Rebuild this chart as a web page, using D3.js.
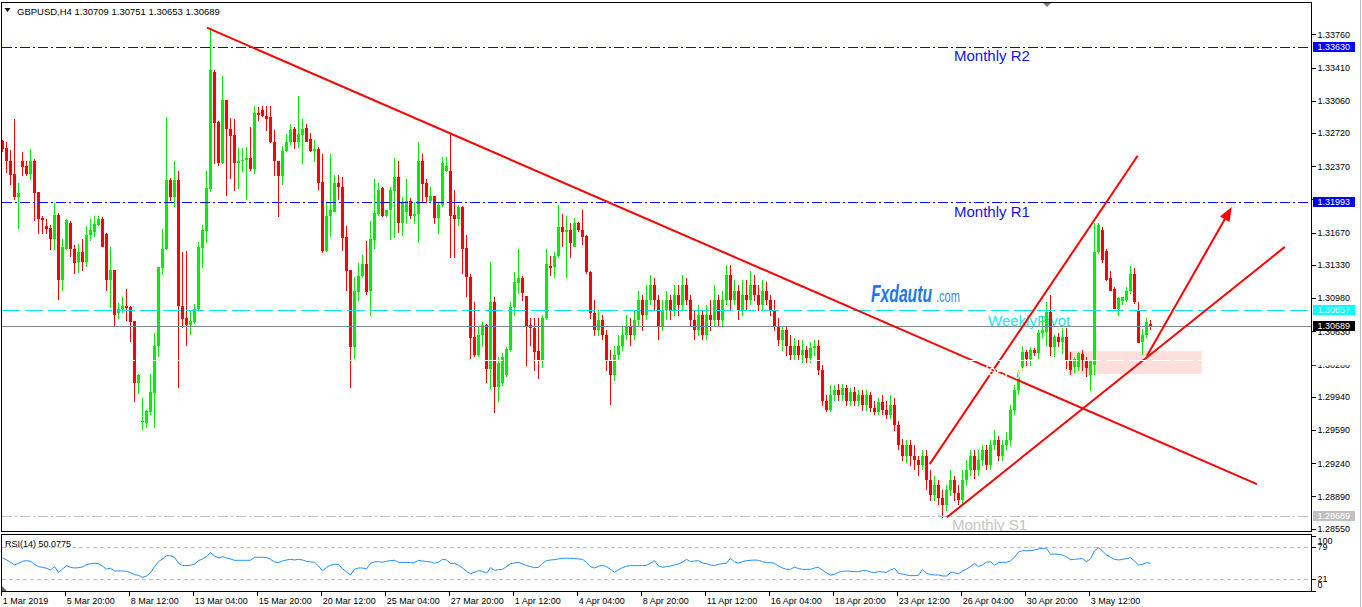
<!DOCTYPE html>
<html>
<head>
<meta charset="utf-8">
<script src="https://cdn.jsdelivr.net/npm/d3@7/dist/d3.min.js"></script>
<style>
html,body{margin:0;padding:0;background:#fff;}
svg{display:block;}
</style>
</head>
<body>
<svg id="chart" width="1362" height="607"></svg>
<script>
// ---------------- DATA ----------------
const chartTitle = "GBPUSD,H4";
const openP = [
1.3264,1.3256,1.3243,1.3229,1.3205,1.3243,1.3237,1.3229,1.3242,1.3210,
1.3182,1.3174,1.3172,1.3160,1.3186,1.3117,1.3150,1.3177,1.3150,1.3136,
1.3147,1.3136,1.3165,1.3168,1.3175,1.3181,1.3166,1.3117,1.3128,1.3082,
1.3086,1.3090,1.3089,1.3074,1.3009,1.2967,1.2966,1.2978,1.2998,1.3048,
1.3130,1.3150,1.3222,1.3205,1.3222,1.3090,1.3077,1.3070,1.3073,1.3086,
1.3151,1.3169,1.3213,1.3336,1.3284,1.3240,1.3307,1.3276,1.3270,1.3240,
1.3242,1.3244,1.3246,1.3234,1.3293,1.3296,1.3290,1.3289,1.3262,1.3242,
1.3227,1.3253,1.3263,1.3276,1.3262,1.3270,1.3277,1.3266,1.3253,1.3255,
1.3220,1.3148,1.3184,1.3189,1.3219,1.3215,1.3162,1.3128,1.3047,1.3104,
1.3121,1.3134,1.3105,1.3159,1.3187,1.3214,1.3184,1.3191,1.3211,1.3226,
1.3177,1.3189,1.3200,1.3184,1.3187,1.3242,1.3219,1.3200,1.3206,1.3182,
1.3196,1.3232,1.3232,1.3186,1.3181,1.3194,1.3151,1.3120,1.3057,1.3038,
1.3059,1.3070,1.3023,1.3094,1.3004,1.3009,1.3017,1.3043,1.3089,1.3114,
1.3119,1.3100,1.3070,1.3066,1.3042,1.3032,1.3077,1.3132,1.3131,1.3142,
1.3173,1.3168,1.3170,1.3152,1.3177,1.3170,1.3163,1.3125,
1.3082,1.3064,1.3075,1.3059,1.3033,1.3017,1.3038,1.3048,1.3059,1.3069,
1.3059,1.3075,1.3096,1.3080,1.3096,1.3112,1.3096,1.3069,1.3085,1.3096,
1.3085,1.3101,1.3091,1.3112,1.3096,1.3075,1.3064,1.3080,1.3059,1.3080,
1.3075,1.3096,1.3075,1.3096,1.3122,1.3096,1.3106,1.3085,1.3101,1.3096,
1.3112,1.3101,1.3091,1.3106,1.3096,1.3085,1.3069,1.3054,1.3064,1.3048,
1.3038,1.3048,1.3038,1.3043,1.3035,1.3045,1.3048,1.3022,1.2990,1.2980,
1.2996,1.3001,1.2996,1.3003,1.2990,1.2999,1.2990,1.2996,1.2985,1.2996,
1.2982,1.2978,1.2988,1.2980,1.2975,1.2985,1.2964,1.2943,1.2932,1.2943,
1.2932,1.2927,1.2922,1.2932,1.2906,1.2890,1.2901,1.2887,1.2880,1.2896,
1.2906,1.2893,1.2885,1.2906,1.2917,1.2932,1.2917,1.2927,1.2938,1.2922,
1.2943,1.2948,1.2932,1.2943,1.2948,1.2980,1.3001,1.3025,1.3041,1.3034,
1.3043,1.3040,1.3061,1.3062,1.3083,1.3047,1.3057,1.3052,1.3057,1.3033,
1.3025,1.3025,1.3039,1.3033,1.3017,1.3027,1.3147,1.3170,1.3148,1.3119,
1.3108,1.3087,1.3095,1.3096,1.3105,1.3123,1.3085,1.3052,1.3059,1.30709];
const highP = [
1.3265,1.3262,1.3254,1.3287,1.3219,1.3252,1.3243,1.3255,1.3245,1.3210,
1.3185,1.3181,1.3175,1.3198,1.3188,1.3160,1.3181,1.3179,1.3154,1.3155,
1.3160,1.3174,1.3181,1.3184,1.3185,1.3183,1.3167,1.3152,1.3128,1.3093,
1.3099,1.3108,1.3090,1.3074,1.3018,1.2993,1.2980,1.3018,1.3061,1.3131,
1.3171,1.3289,1.3225,1.3242,1.3232,1.3147,1.3148,1.3085,1.3092,1.3157,
1.3175,1.3232,1.3383,1.3338,1.3285,1.3332,1.3307,1.3288,1.3287,1.3256,
1.3256,1.3257,1.3278,1.3300,1.3299,1.3300,1.3300,1.3300,1.3275,1.3242,
1.3258,1.3271,1.3281,1.3278,1.3311,1.3287,1.3282,1.3272,1.3265,1.3257,
1.3250,1.3199,1.3250,1.3228,1.3228,1.3226,1.3174,1.3128,1.3120,1.3135,
1.3143,1.3158,1.3179,1.3224,1.3219,1.3215,1.3191,1.3215,1.3246,1.3243,
1.3205,1.3223,1.3203,1.3199,1.3262,1.3250,1.3223,1.3215,1.3206,1.3199,
1.3247,1.3247,1.3272,1.3212,1.3196,1.3195,1.3164,1.3123,1.3094,1.3069,
1.3073,1.3071,1.3136,1.3099,1.3036,1.3040,1.3047,1.3094,1.3125,1.3150,
1.3121,1.3100,1.3077,1.3077,1.3077,1.3080,1.3150,1.3142,1.3147,1.3196,
1.3187,1.3185,1.3177,1.3182,1.3178,1.3191,1.3164,1.3127,
1.3096,1.3085,1.3080,1.3064,1.3043,1.3048,1.3059,1.3069,1.3080,1.3077,
1.3085,1.3106,1.3101,1.3112,1.3122,1.3119,1.3101,1.3096,1.3106,1.3101,
1.3112,1.3112,1.3122,1.3119,1.3101,1.3085,1.3091,1.3085,1.3091,1.3096,
1.3112,1.3101,1.3106,1.3133,1.3133,1.3117,1.3112,1.3117,1.3117,1.3127,
1.3122,1.3112,1.3117,1.3115,1.3101,1.3096,1.3077,1.3069,1.3069,1.3059,
1.3056,1.3054,1.3054,1.3048,1.3052,1.3054,1.3054,1.3027,1.2996,1.3006,
1.3006,1.3008,1.3008,1.3006,1.3003,1.3004,1.3001,1.3001,1.3001,1.2999,
1.2990,1.2993,1.2996,1.2990,1.2996,1.2993,1.2969,1.2950,1.2948,1.2948,
1.2943,1.2932,1.2938,1.2938,1.2917,1.2911,1.2906,1.2896,1.2901,1.2917,
1.2911,1.2901,1.2917,1.2927,1.2938,1.2938,1.2938,1.2943,1.2943,1.2948,
1.2959,1.2953,1.2948,1.2957,1.2985,1.3006,1.3022,1.3048,1.3043,1.3047,
1.3045,1.3064,1.3078,1.3094,1.3101,1.3059,1.3061,1.3066,1.3066,1.3041,
1.3036,1.3041,1.3043,1.3036,1.3033,1.3177,1.3177,1.3173,1.3150,1.3127,
1.3110,1.3099,1.3099,1.3110,1.3132,1.3130,1.3094,1.3065,1.3077,1.30751];
const lowP = [
1.3253,1.3230,1.3218,1.3202,1.3171,1.3227,1.3227,1.3223,1.3180,1.3166,
1.3166,1.3166,1.3149,1.3149,1.3097,1.3106,1.3149,1.3142,1.3124,1.3125,
1.3127,1.3131,1.3159,1.3163,1.3174,1.3152,1.3106,1.3088,1.3068,1.3077,
1.3083,1.3074,1.3052,1.2989,1.2997,1.2960,1.2962,1.2975,1.2962,1.3036,
1.3123,1.3149,1.3201,1.3195,1.3004,1.3067,1.3048,1.3060,1.3071,1.3085,
1.3130,1.3157,1.3210,1.3240,1.3238,1.3240,1.3206,1.3224,1.3211,1.3213,
1.3231,1.3202,1.3232,1.3229,1.3285,1.3289,1.3275,1.3262,1.3227,1.3184,
1.3218,1.3253,1.3260,1.3256,1.3257,1.3240,1.3263,1.3253,1.3242,1.3212,
1.3146,1.3147,1.3163,1.3189,1.3202,1.3148,1.3106,1.3004,1.3034,1.3095,
1.3120,1.3102,1.3080,1.3150,1.3185,1.3184,1.3184,1.3160,1.3162,1.3167,
1.3164,1.3177,1.3182,1.3177,1.3157,1.3199,1.3199,1.3199,1.3177,1.3166,
1.3195,1.3231,1.3141,1.3141,1.3174,1.3124,1.3100,1.3034,1.3036,1.3036,
1.3047,1.3009,1.3003,1.2977,1.2989,1.3006,1.3015,1.3042,1.3080,1.3103,
1.3096,1.3027,1.3048,1.3022,1.3013,1.3025,1.3075,1.3122,1.3120,1.3141,
1.3152,1.3120,1.3141,1.3152,1.3168,1.3155,1.3124,1.3077,
1.3059,1.3059,1.3054,1.3022,1.2986,1.3011,1.3033,1.3043,1.3054,1.3048,
1.3054,1.3069,1.3064,1.3075,1.3091,1.3085,1.3054,1.3064,1.3075,1.3075,
1.3080,1.3080,1.3085,1.3091,1.3069,1.3054,1.3059,1.3054,1.3054,1.3064,
1.3069,1.3069,1.3069,1.3091,1.3085,1.3091,1.3075,1.3080,1.3085,1.3091,
1.3096,1.3085,1.3085,1.3091,1.3080,1.3064,1.3048,1.3043,1.3038,1.3033,
1.3033,1.3033,1.3030,1.3030,1.3030,1.3038,1.3017,1.2985,1.2978,1.2978,
1.2990,1.2990,1.2990,1.2985,1.2985,1.2985,1.2985,1.2980,1.2980,1.2978,
1.2975,1.2975,1.2975,1.2971,1.2971,1.2959,1.2938,1.2927,1.2925,1.2922,
1.2917,1.2911,1.2917,1.2896,1.2885,1.2885,1.2880,1.2867,1.2874,1.2890,
1.2885,1.2880,1.2880,1.2901,1.2911,1.2908,1.2911,1.2922,1.2917,1.2917,
1.2938,1.2927,1.2927,1.2938,1.2943,1.2975,1.2996,1.3022,1.3025,1.3027,
1.3038,1.3034,1.3057,1.3048,1.3038,1.3036,1.3047,1.3040,1.3024,1.3017,
1.3020,1.3022,1.3022,1.3015,1.3001,1.3017,1.3145,1.3136,1.3117,1.3106,
1.3087,1.3080,1.3091,1.3094,1.3103,1.3092,1.3051,1.3039,1.3057,1.30653];
const closeP = [
1.3255,1.3243,1.3228,1.3205,1.3209,1.3236,1.3229,1.3242,1.3209,1.3181,
1.3180,1.3171,1.3160,1.3186,1.3117,1.3152,1.3180,1.3150,1.3135,1.3147,
1.3136,1.3165,1.3170,1.3176,1.3181,1.3152,1.3117,1.3128,1.3080,1.3086,
1.3090,1.3088,1.3073,1.3009,1.3017,1.2968,1.2979,1.2999,1.3048,1.3131,
1.3150,1.3222,1.3205,1.3222,1.3090,1.3076,1.3070,1.3074,1.3086,1.3152,
1.3170,1.3214,1.3338,1.3283,1.3240,1.3307,1.3276,1.3269,1.3240,1.3243,
1.3244,1.3246,1.3234,1.3293,1.3291,1.3290,1.3287,1.3262,1.3242,1.3227,
1.3253,1.3263,1.3275,1.3262,1.3271,1.3276,1.3263,1.3253,1.3255,1.3219,
1.3148,1.3184,1.3191,1.3219,1.3215,1.3161,1.3127,1.3047,1.3106,1.3121,
1.3134,1.3104,1.3160,1.3188,1.3212,1.3184,1.3191,1.3212,1.3226,1.3177,
1.3198,1.3200,1.3184,1.3187,1.3242,1.3218,1.3205,1.3206,1.3182,1.3196,
1.3240,1.3237,1.3185,1.3181,1.3194,1.3150,1.3120,1.3056,1.3038,1.3059,
1.3070,1.3023,1.3094,1.3004,1.3030,1.3036,1.3044,1.3089,1.3115,1.3119,
1.3103,1.3069,1.3066,1.3041,1.3032,1.3077,1.3134,1.3130,1.3142,1.3173,
1.3168,1.3170,1.3156,1.3177,1.3170,1.3162,1.3126,1.3082,
1.3064,1.3075,1.3059,1.3033,1.3017,1.3038,1.3048,1.3059,1.3069,1.3059,
1.3075,1.3096,1.3080,1.3096,1.3112,1.3096,1.3069,1.3085,1.3096,1.3085,
1.3101,1.3091,1.3112,1.3096,1.3075,1.3064,1.3080,1.3059,1.3080,1.3075,
1.3096,1.3075,1.3096,1.3122,1.3096,1.3106,1.3085,1.3101,1.3096,1.3112,
1.3101,1.3091,1.3106,1.3096,1.3085,1.3069,1.3054,1.3064,1.3048,1.3038,
1.3048,1.3038,1.3043,1.3035,1.3045,1.3048,1.3022,1.2990,1.2980,1.2996,
1.3001,1.2996,1.3003,1.2990,1.2999,1.2990,1.2996,1.2985,1.2996,1.2982,
1.2978,1.2988,1.2980,1.2975,1.2985,1.2964,1.2943,1.2932,1.2943,1.2932,
1.2927,1.2922,1.2932,1.2906,1.2890,1.2901,1.2887,1.2880,1.2896,1.2906,
1.2893,1.2885,1.2906,1.2917,1.2932,1.2917,1.2927,1.2938,1.2922,1.2943,
1.2948,1.2932,1.2943,1.2948,1.2980,1.3001,1.3020,1.3041,1.3034,1.3043,
1.3040,1.3061,1.3064,1.3083,1.3047,1.3057,1.3052,1.3057,1.3033,1.3022,
1.3034,1.3040,1.3033,1.3024,1.3033,1.3147,1.3175,1.3138,1.3117,1.3106,
1.3087,1.3098,1.3099,1.3105,1.3123,1.3094,1.3051,1.3059,1.3073,1.30689];
const rsiValues = [
60.3,56,51.8,47,50,53.6,54.8,53.6,48.2,44,42.7,41,37.9,44,33.7,39.7,45.8,42.7,41.5,42.1,
43.3,47.6,49.4,50,49.4,44.6,39.7,41,36.1,36.1,36.1,35.5,33.1,29.5,28.3,24.6,27,33.1,44,53,
57.9,63.9,63.3,60.9,50,45.8,45.8,46.4,48.2,54.8,57.9,62.1,69.3,63.3,59.7,62.1,59.7,57.9,55.4,55.4,
55.4,55.4,55.4,60.9,60.9,60.9,60.3,57.2,52.4,51.2,54.2,56,57.2,56,57.2,56,53.6,52.4,51.8,45.2,
36.1,42.7,46.4,48.2,47.6,40.3,34.3,28.9,39.1,41.5,41.5,39.7,50,52.4,53,51.8,53.6,54.8,55.4,51.8,
51.2,51.8,51.2,51.2,55.4,54.2,53,52.4,50,51.8,57.2,56,50,
50,46.4,41.5,35.5,31.3,33.7,36.7,35.5,31.9,42.1,37.3,38.5,39.1,44,49.4,50.6,51.8,48.8,45.8,44,
42.1,42.7,50,54.8,56,56.6,57.9,59.1,59.1,59.1,58.5,57.9,57.2,51.8,44,41.5,44.6,46.4,44,39.1,
33.7,38.5,42.1,44.6,45.8,45.8,45.8,45.8,46.4,50,54.8,45.2,42.7,44,45.2,47,48.8,52.4,57.2,53,
54.2,54.8,50.6,49.4,47,45.8,48.2,49.4,50,59.1,52.4,50.6,53,54.8,55.4,56,55.4,53,51.2,51.2,
50,45.2,41.5,39.1,39.1,43.3,40.3,39.1,39.1,39.1,41.5,42.7,37.3,33.1,28.3,30.1,33.7,35.5,36.1,35.5,
34.9,34.9,36.7,36.7,34.3,33.1,34.9,34.3,33.7,37.9,40.9,31.9,
30.7,28.9,27.7,27.7,28.3,39.1,31.9,29.5,28.9,28.9,27,27,33.1,33.1,30.7,36.1,39.7,44,50,44,
47,51.8,53,46.4,51.2,51.8,51.8,54.2,60.9,70.5,72.9,72.9,72.9,74.2,76,77.2,77.2,66.3,66.9,66.3,
65.1,62.1,56.6,57.2,57.9,58.5,53,57.9,72.3,78.4,72.3,65.1,60.9,57.2,56,57.2,58.5,60.3,54.2,47,
48.2,51.2,50.08];
const rsiLabel = "RSI(14) 50.0775";
const priceTicks = [1.3376,1.3341,1.3306,1.3272,1.3237,1.3202,1.3167,1.3133,1.3098,1.3063,1.3028,1.2994,1.2959,1.2924,1.2889,1.2855];
const rsiTicks = [100,79,21,0];
const rsiLevels = [79,21];
const timeLabels = ["1 Mar 2019","5 Mar 20:00","8 Mar 12:00","13 Mar 04:00","15 Mar 20:00","20 Mar 12:00","25 Mar 04:00","27 Mar 20:00","1 Apr 12:00","4 Apr 04:00","8 Apr 20:00","11 Apr 12:00","16 Apr 04:00","18 Apr 20:00","23 Apr 12:00","26 Apr 04:00","30 Apr 20:00","3 May 12:00"];
const barsPerLabel = 16;
const levelPrices = [1.33630, 1.31993, 1.30857, 1.30689, 1.28689];
const levelNames = ["Monthly R2", "Monthly R1", "WeeklyPivot", "", "Monthly S1"];
const hiddenLevelPrice = 1.30325;
const hiddenLevelName = "WeeklyS1";
const trendStartIdx = [51.1, 231.8, 236.1];
const trendStartPrice = [1.3383, 1.2923, 1.2867];
const trendEndIdx = [313.6, 283.8, 320.6];
const trendEndPrice = [1.2902, 1.3248, 1.3152];
const arrowIdx = [286.1, 307.3];
const arrowPrice = [1.3037, 1.3194];
const zoneIdx = [266.4, 299.8];
const zonePrice = [1.3042, 1.3018];

// ---------------- DRAW ----------------
const FONT = "'Liberation Sans', Arial, sans-serif";
const svg = d3.select("#chart");
const n = closeP.length;
const x = d3.scaleLinear().domain([0, n - 1]).range([2.5, 2.5 + 4 * (n - 1)]);
const y = d3.scaleLinear().domain([1.2855, 1.3376]).range([528.7, 34.3]);
const yR = d3.scaleLinear().domain([0, 100]).range([590.9, 535.7]);
const fmt5 = d3.format(".5f");

svg.append("rect").attr("width", 1362).attr("height", 607).attr("fill", "#fff");
const defs = svg.append("defs");
defs.append("clipPath").attr("id", "mainClip").append("rect")
  .attr("x", 2).attr("y", 3).attr("width", 1309).attr("height", 528.5);
defs.append("clipPath").attr("id", "rsiClip").append("rect")
  .attr("x", 2).attr("y", 535).attr("width", 1309).attr("height", 56);

const main = svg.append("g").attr("clip-path", "url(#mainClip)");

// zone
main.append("rect")
  .attr("x", x(zoneIdx[0])).attr("width", x(zoneIdx[1]) - x(zoneIdx[0]))
  .attr("y", y(zonePrice[0])).attr("height", y(zonePrice[1]) - y(zonePrice[0]))
  .attr("fill", "#fde0dc");

// level text labels (behind candles)
const levelTextStyle = [
  {x: 954, dy: 14.5, fill: "#1414e0"},
  {x: 954, dy: 15, fill: "#1414e0"},
  {x: 988, dy: 16, fill: "#22e4f4"},
  null,
  {x: 952, dy: 14.5, fill: "#c4c4c4"}
];
levelPrices.forEach((p, k) => {
  const st = levelTextStyle[k];
  if (!st || !levelNames[k]) return;
  main.append("text").attr("x", st.x).attr("y", y(p) + st.dy)
    .attr("font-family", FONT).attr("font-size", 15).attr("fill", st.fill)
    .text(levelNames[k]);
});

// Fxdautu watermark
main.append("text").attr("x", 871).attr("y", 302)
  .attr("font-family", FONT).attr("font-size", 23).attr("font-weight", "bold").attr("font-style", "italic")
  .attr("fill", "#1a7ae6").attr("textLength", 61).attr("lengthAdjust", "spacingAndGlyphs").text("Fxdautu");
main.append("text").attr("x", 936).attr("y", 302)
  .attr("font-family", FONT).attr("font-size", 17)
  .attr("fill", "#3a8de0").attr("textLength", 24).attr("lengthAdjust", "spacingAndGlyphs").text(".com");

// candles
const BULL = "#00ee00", BEAR = "#ff0000";
const idx = d3.range(n);
const cg = main.append("g").attr("shape-rendering", "crispEdges");
cg.selectAll("line.wick").data(idx).join("line").attr("class", "wick")
  .attr("x1", i => x(i)).attr("x2", i => x(i))
  .attr("y1", i => y(highP[i])).attr("y2", i => y(lowP[i]) + 0.5)
  .attr("stroke", i => closeP[i] >= openP[i] ? BULL : BEAR).attr("stroke-width", 1);
cg.selectAll("rect.body").data(idx).join("rect").attr("class", "body")
  .attr("x", i => x(i) - 1.5).attr("width", 3)
  .attr("y", i => y(Math.max(openP[i], closeP[i])))
  .attr("height", i => Math.max(1, y(Math.min(openP[i], closeP[i])) - y(Math.max(openP[i], closeP[i]))))
  .attr("fill", i => closeP[i] >= openP[i] ? BULL : BEAR);

// level lines
const levelLineStyle = [
  {stroke: "#0000ff", dash: "10,3,2,3"},
  {stroke: "#0000ff", dash: "10,3,2,3"},
  {stroke: "#00e5ff", dash: "18,5"},
  {stroke: "#778899", dash: null},
  {stroke: "#c0c0c0", dash: "10,3,2,3"}
];
const lg = main.append("g").attr("shape-rendering", "crispEdges");
levelPrices.forEach((p, k) => {
  const yy = Math.round(y(p)) + 0.5;
  lg.append("line").attr("x1", 2).attr("x2", 1311).attr("y1", yy).attr("y2", yy)
    .attr("stroke", levelLineStyle[k].stroke).attr("stroke-width", 1)
    .attr("stroke-dasharray", levelLineStyle[k].dash);
});

// trend lines
const tg = main.append("g");
trendStartIdx.forEach((s, k) => {
  tg.append("line")
    .attr("x1", x(s)).attr("y1", y(trendStartPrice[k]))
    .attr("x2", x(trendEndIdx[k])).attr("y2", y(trendEndPrice[k]))
    .attr("stroke", "#ff0000").attr("stroke-width", 2);
});
// arrow
{
  const x1 = x(arrowIdx[0]), y1 = y(arrowPrice[0]), x2 = x(arrowIdx[1]), y2 = y(arrowPrice[1]);
  const L = Math.hypot(x2 - x1, y2 - y1), ux = (x2 - x1) / L, uy = (y2 - y1) / L;
  const hl = 14, hw = 5.5;
  const bx = x2 - ux * hl, by = y2 - uy * hl;
  tg.append("line").attr("x1", x1).attr("y1", y1).attr("x2", bx + ux * 2).attr("y2", by + uy * 2)
    .attr("stroke", "#ff0000").attr("stroke-width", 2);
  tg.append("polygon")
    .attr("points", [[x2, y2], [bx - uy * hw, by + ux * hw], [bx + uy * hw, by - ux * hw]].map(d => d.join(",")).join(" "))
    .attr("fill", "#ff0000");
}

// hidden (white) level line and label
{
  const yy = Math.round(y(hiddenLevelPrice)) + 0.5;
  main.append("line").attr("x1", 2).attr("x2", 1311).attr("y1", yy).attr("y2", yy)
    .attr("stroke", "#ffffff").attr("stroke-width", 1).attr("stroke-dasharray", "18,5")
    .attr("shape-rendering", "crispEdges");
  main.append("text").attr("x", 974).attr("y", y(hiddenLevelPrice) + 16)
    .attr("font-family", FONT).attr("font-size", 15).attr("fill", "#ffffff").text(hiddenLevelName);
}

// header
svg.append("polygon").attr("points", "4.5,8 10.5,8 7.5,12").attr("fill", "#000");
svg.append("text").attr("x", 17).attr("y", 14.5)
  .attr("font-family", FONT).attr("font-size", 9.5).attr("fill", "#000")
  .text(chartTitle + "  " + [openP[n-1], highP[n-1], lowP[n-1], closeP[n-1]].map(fmt5).join(" "));
// chart-shift marker
svg.append("polygon").attr("points", "1042,2 1052,2 1047,7").attr("fill", "#7a7a7a");

// ---- RSI panel ----
const rg = svg.append("g").attr("clip-path", "url(#rsiClip)");
rsiLevels.forEach(v => {
  const yy = Math.round(yR(v)) + 0.5;
  rg.append("line").attr("x1", 2).attr("x2", 1311).attr("y1", yy).attr("y2", yy)
    .attr("stroke", "#c0c0c0").attr("stroke-dasharray", "4,3").attr("shape-rendering", "crispEdges");
});
rg.append("path").datum(rsiValues)
  .attr("d", d3.line().x((d, i) => x(i)).y(d => yR(d)))
  .attr("fill", "none").attr("stroke", "#1e90ff").attr("stroke-width", 1);
svg.append("text").attr("x", 5).attr("y", 547)
  .attr("font-family", FONT).attr("font-size", 9).attr("fill", "#000").text(rsiLabel);
svg.append("polygon").attr("points", "2,586 2,591 7,591").attr("fill", "#5a6068");

// ---- frames ----
const fr = svg.append("g").attr("fill", "none").attr("stroke", "#000").attr("shape-rendering", "crispEdges");
fr.append("rect").attr("x", 1.5).attr("y", 2.5).attr("width", 1310).attr("height", 529);
fr.append("rect").attr("x", 1.5).attr("y", 534.5).attr("width", 1310).attr("height", 57);

// ---- price axis ----
const ax = svg.append("g").attr("transform", "translate(1311.5,0)")
  .call(d3.axisRight(y).tickValues(priceTicks).tickFormat(fmt5).tickSize(4).tickPadding(2));
ax.select(".domain").remove();
ax.selectAll("text").attr("font-family", FONT).attr("font-size", 9).attr("fill", "#000");
ax.selectAll("line").attr("stroke", "#000").attr("shape-rendering", "crispEdges");

// highlighted level tags
const tagStyle = [
  {bg: "#0000ff", fg: "#fff"}, {bg: "#0000ff", fg: "#fff"},
  {bg: "#00ffff", fg: "#fff"}, {bg: "#000000", fg: "#fff"}, {bg: "#c0c0c0", fg: "#fff"}
];
const tg2 = svg.append("g");
tg2.append("rect").attr("x", 1313).attr("y", y(hiddenLevelPrice) - 5).attr("width", 42).attr("height", 10).attr("fill", "#fff");
levelPrices.forEach((p, k) => {
  const yc = y(p);
  tg2.append("rect").attr("x", 1313).attr("y", yc - 5).attr("width", 42).attr("height", 10)
    .attr("fill", tagStyle[k].bg).attr("shape-rendering", "crispEdges");
  tg2.append("text").attr("x", 1317.5).attr("y", yc).attr("dy", "0.35em")
    .attr("font-family", FONT).attr("font-size", 9).attr("fill", tagStyle[k].fg).text(fmt5(p));
});

// ---- RSI axis ----
const ra = svg.append("g");
rsiTicks.forEach(v => {
  const yy = Math.round(yR(v)) + 0.5;
  ra.append("line").attr("x1", 1311.5).attr("x2", 1315.5).attr("y1", yy).attr("y2", yy)
    .attr("stroke", "#000").attr("shape-rendering", "crispEdges");
  const ly = Math.min(Math.max(yR(v), 540.5), 585);
  ra.append("text").attr("x", 1317.5).attr("y", ly).attr("dy", "0.35em")
    .attr("font-family", FONT).attr("font-size", 9).attr("fill", "#000").text(v);
});

// ---- time axis ----
const xa = svg.append("g");
timeLabels.forEach((t, k) => {
  const xi = x(k * barsPerLabel);
  xa.append("line").attr("x1", Math.floor(xi) - 0.5).attr("x2", Math.floor(xi) - 0.5).attr("y1", 591.5).attr("y2", 596)
    .attr("stroke", "#000").attr("shape-rendering", "crispEdges");
  xa.append("text").attr("x", xi + 0.3).attr("y", 604)
    .attr("font-family", FONT).attr("font-size", 9).attr("fill", "#000").text(t);
});

// right window edge
svg.append("line").attr("x1", 1360.5).attr("x2", 1360.5).attr("y1", 0).attr("y2", 607)
  .attr("stroke", "#b8c0c8").attr("shape-rendering", "crispEdges");
</script>
</body>
</html>
